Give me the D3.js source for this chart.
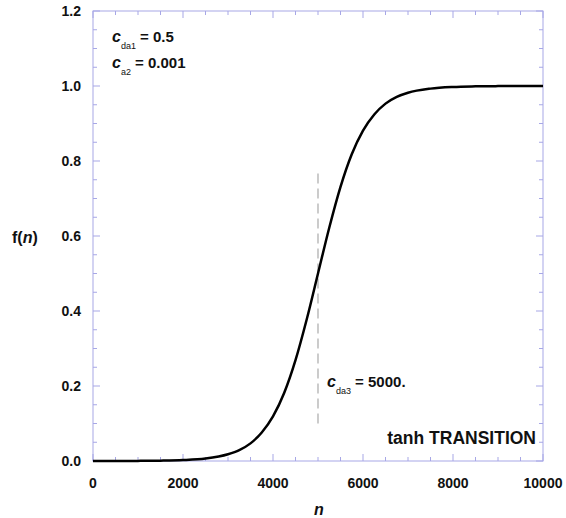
<!DOCTYPE html>
<html>
<head>
<meta charset="utf-8">
<script src="https://cdn.jsdelivr.net/npm/d3@7"></script>
<style>
  body { margin: 0; background: #fff; }
  svg text { font-family: "Liberation Sans", Arial, sans-serif; font-weight: bold; fill: #111; }
</style>
</head>
<body>
<div class="chart"></div>
<script>
// curve values
var nValues = [0, 500, 1000, 1500, 2000, 2500, 3000, 3250, 3500, 3750, 4000, 4250, 4500, 4750,
    5000, 5250, 5500, 5750, 6000, 6250, 6500, 6750, 7000, 7500, 8000, 8500, 9000, 9500, 10000];
var fValues = [0.0000, 0.0001, 0.0003, 0.0009, 0.0025, 0.0067, 0.018, 0.029, 0.047, 0.076, 0.119, 0.182, 0.269, 0.378,
    0.500, 0.622, 0.731, 0.818, 0.881, 0.924, 0.953, 0.971, 0.982, 0.993, 0.9975, 0.9991, 0.9997, 0.9999, 1.0];
var xTicks = [0, 2000, 4000, 6000, 8000, 10000];
var yTicks = [0.0, 0.2, 0.4, 0.6, 0.8, 1.0, 1.2];
var markerN = 5000;
var markerRange = [0.1, 0.77];

var width = 566, height = 518;
var plotL = 93, plotR = 543, plotT = 11, plotB = 461;
var axisColor = '#a7a7e6';

var x = d3.scaleLinear().domain([0, 10000]).range([plotL, plotR]);
var y = d3.scaleLinear().domain([0, 1.2]).range([plotB, plotT]);

var svg = d3.select('.chart').append('svg')
    .attr('width', width)
    .attr('height', height);

// frame
svg.append('rect')
    .attr('x', plotL).attr('y', plotT)
    .attr('width', plotR - plotL).attr('height', plotB - plotT)
    .attr('fill', 'none')
    .attr('stroke', axisColor)
    .attr('stroke-width', 1);

// inward ticks on all four sides
var xMinor = d3.range(0, 10001, 500);
var yMinor = d3.range(0, 1.2001, 0.05);
function isMajorX(v) { return v % 2000 === 0; }
function isMajorY(v) { return Math.abs(v * 5 - Math.round(v * 5)) < 1e-6; }

var ticks = svg.append('g').attr('stroke', axisColor).attr('stroke-width', 1);
xMinor.forEach(function (v) {
    var len = isMajorX(v) ? 7 : 4;
    ticks.append('line').attr('x1', x(v)).attr('x2', x(v)).attr('y1', plotB).attr('y2', plotB - len);
    ticks.append('line').attr('x1', x(v)).attr('x2', x(v)).attr('y1', plotT).attr('y2', plotT + len);
});
yMinor.forEach(function (v) {
    var len = isMajorY(v) ? 7 : 4;
    ticks.append('line').attr('y1', y(v)).attr('y2', y(v)).attr('x1', plotL).attr('x2', plotL + len);
    ticks.append('line').attr('y1', y(v)).attr('y2', y(v)).attr('x1', plotR).attr('x2', plotR - len);
});

// tick labels
svg.selectAll('.xlab').data(xTicks).enter()
    .append('text')
    .attr('x', function (d) { return x(d); })
    .attr('y', 488)
    .attr('text-anchor', 'middle')
    .style('font-size', '14px')
    .text(function (d) { return d; });

svg.selectAll('.ylab').data(yTicks).enter()
    .append('text')
    .attr('x', 81)
    .attr('y', function (d) { return y(d) + 5; })
    .attr('text-anchor', 'end')
    .style('font-size', '14px')
    .text(function (d) { return d.toFixed(1); });

// axis titles
svg.append('text')
    .attr('x', 319).attr('y', 515)
    .attr('text-anchor', 'middle')
    .style('font-size', '16px').style('font-style', 'italic')
    .text('n');

var fl = svg.append('text')
    .attr('x', 12).attr('y', 243)
    .style('font-size', '16px');
fl.append('tspan').text('f(');
fl.append('tspan').style('font-style', 'italic').text('n');
fl.append('tspan').text(')');

// dashed marker
svg.append('line')
    .attr('x1', x(markerN)).attr('x2', x(markerN))
    .attr('y1', y(markerRange[0])).attr('y2', y(markerRange[1]))
    .attr('stroke', '#aaa')
    .attr('stroke-width', 1.2)
    .attr('stroke-dasharray', '10,5');

// curve
var pts = nValues.map(function (n, i) { return [n, fValues[i]]; });
svg.append('path')
    .datum(pts)
    .attr('d', d3.line()
        .x(function (d) { return x(d[0]); })
        .y(function (d) { return y(d[1]); })
        .curve(d3.curveMonotoneX))
    .attr('fill', 'none')
    .attr('stroke', '#000')
    .attr('stroke-width', 2.5);

// annotations
function coef(xp, yp, sub, rest) {
    var t = svg.append('text').attr('x', xp).attr('y', yp).style('font-size', '15px');
    t.append('tspan').style('font-style', 'italic').style('font-size', '16px').text('c');
    t.append('tspan').attr('dy', 7).style('font-size', '9px').style('font-weight', 'normal').text(sub);
    t.append('tspan').attr('dy', -7).text(' = ' + rest);
}
coef(112, 42, 'da1', '0.5');
coef(112, 68, 'a2', '0.001');
coef(327, 387, 'da3', '5000.');

svg.append('text')
    .attr('x', 536).attr('y', 444)
    .attr('text-anchor', 'end')
    .style('font-size', '17.5px')
    .text('tanh TRANSITION');
</script>
</body>
</html>
